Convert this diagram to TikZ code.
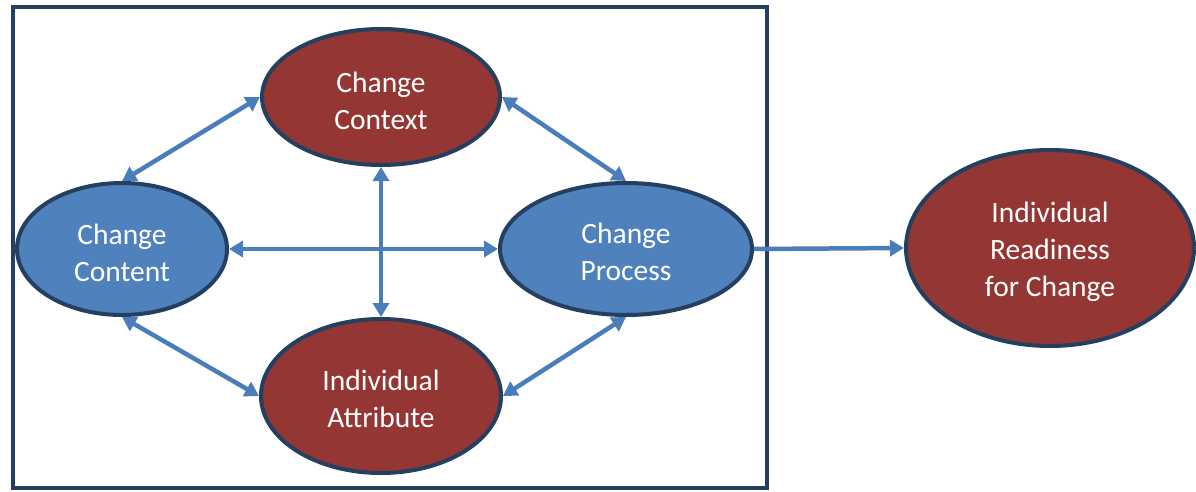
\documentclass[tikz,border=0pt]{standalone}
\usepackage{fontspec}
\setmainfont{Carlito}
\usetikzlibrary{shapes.geometric,arrows.meta}
\definecolor{darkred}{HTML}{943634}
\definecolor{midblue}{HTML}{4F81BD}
\definecolor{navy}{HTML}{243F60}
\definecolor{arrowblue}{HTML}{4A7EBB}
\tikzset{
  oval/.style={ellipse, draw=navy, line width=4pt, inner sep=0pt},
  redoval/.style={oval, fill=darkred},
  blueoval/.style={oval, fill=midblue},
  txt/.style={align=center, text=white, inner sep=0pt, font=\fontsize{29.5}{37}\selectfont},
  link/.style={draw=arrowblue, line width=4.5pt,
    {Triangle[length=14pt,width=16pt]}-{Triangle[length=14pt,width=16pt]}},
  onelink/.style={draw=arrowblue, line width=4.5pt, -{Triangle[length=14pt,width=16pt]}},
  frame/.style={draw=navy, line width=4pt}
}
\begin{document}
\begin{tikzpicture}[x=1pt,y=-1pt]
\useasboundingbox (0,0) rectangle (1196,492);
\node[frame, minimum width=754pt, minimum height=481pt, inner sep=0pt] (box) at (390,247.5) {};
\node[redoval, minimum width=238pt, minimum height=136pt] (context) at (381,97) {};
\node[blueoval, minimum width=210pt, minimum height=132pt] (content) at (122,249) {};
\node[blueoval, minimum width=252pt, minimum height=132pt] (process) at (626,249) {};
\node[redoval, minimum width=240pt, minimum height=154pt] (attr) at (381,396) {};
\node[redoval, minimum width=288pt, minimum height=196pt] (ready) at (1050,248) {};
\node[txt] (contextT) at ([yshift=-4pt]context.center) {Change\\Context};
\node[txt] (contentT) at ([yshift=-4pt]content.center) {Change\\Content};
\node[txt] (processT) at ([yshift=-3pt]process.center) {Change\\Process};
\node[txt] (attrT) at ([yshift=-3pt]attr.center) {Individual\\Attribute};
\node[txt] (readyT) at ([yshift=-4pt]ready.center) {Individual\\Readiness\\for Change};
\draw[link] (content.north) -- (context.west);
\draw[link] (context.east) -- (process.north);
\draw[link] (content.south) -- (attr.west);
\draw[link] (process.south) -- (attr.east);
\draw[link] (context.south) -- (attr.north);
\draw[link] (content.east) -- (process.west);
\draw[onelink] (process.east) -- (ready.west);
\end{tikzpicture}
\end{document}
